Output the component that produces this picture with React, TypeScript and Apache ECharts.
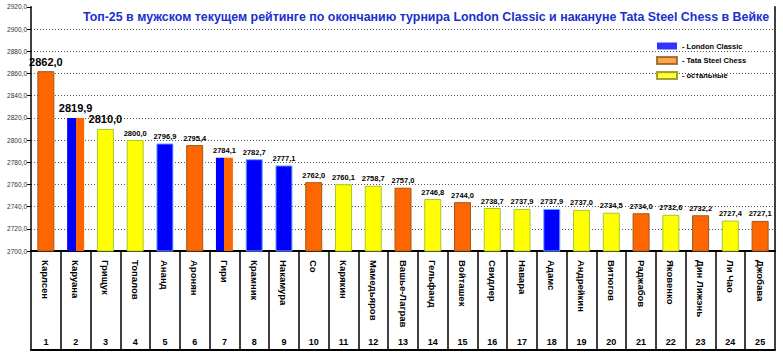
import React, { useEffect, useRef } from "react";
import * as echarts from "echarts";

const titleText =
  "Топ-25 в мужском текущем рейтинге по окончанию турнира London Classic и накануне Tata Steel Chess в Вейке";

const players = [
  "Карлсен", "Каруана", "Грищук", "Топалов", "Ананд", "Аронян", "Гири", "Крамник",
  "Накамура", "Со", "Карякин", "Мамедьяров", "Вашье-Лаграв", "Гельфанд", "Войташек",
  "Свидлер", "Навара", "Адамс", "Андрейкин", "Витюгов", "Раджабов", "Яковенко",
  "Дин Лижэнь", "Ли Чао", "Джобава",
];

const ratings = [
  2862.0, 2819.9, 2810.0, 2800.0, 2796.9, 2795.4, 2784.1, 2782.7, 2777.1, 2762.0,
  2760.1, 2758.7, 2757.0, 2746.8, 2744.0, 2738.7, 2737.9, 2737.9, 2737.0, 2734.5,
  2734.0, 2732.6, 2732.2, 2727.4, 2727.1,
];

// L = London Classic, T = Tata Steel Chess, LT = both, O = others
const groups = [
  "T", "LT", "O", "O", "L", "T", "LT", "L", "L", "T",
  "O", "O", "T", "O", "T", "O", "O", "L", "O", "O",
  "T", "O", "T", "O", "T",
];

const ranks = players.map((_, i) => String(i + 1));

const legendNames = ["- London Classic", "- Tata Steel Chess", "- остальные"];

const yMin = 2700;
const yMax = 2920;
const yStep = 20;

const BLUE = "#0000ff";
const ORANGE = "#ff6600";
const YELLOW = "#ffff00";
const FONT = "'Liberation Sans', Arial, sans-serif";

function fmt(v: number) {
  return v.toFixed(1).replace(".", ",");
}

export default function App() {
  const ref = useRef<HTMLDivElement>(null);

  useEffect(() => {
    if (!ref.current) return;
    const chart = echarts.init(ref.current, undefined, { renderer: "svg" });

    const styleFor = (g: string) => {
      if (g === "L") return { color: BLUE, borderColor: "#6fa8ff", borderWidth: 1 };
      if (g === "T") return { color: ORANGE, borderColor: "#9c5a1e", borderWidth: 1 };
      if (g === "O") return { color: YELLOW, borderColor: "#a8c830", borderWidth: 1 };
      return {
        color: new echarts.graphic.LinearGradient(0, 0, 1, 0, [
          { offset: 0, color: BLUE },
          { offset: 0.5, color: BLUE },
          { offset: 0.5, color: ORANGE },
          { offset: 1, color: ORANGE },
        ]),
        borderColor: "#9c5a1e",
        borderWidth: 0,
      };
    };

    const barData = ratings.map((v, i) => ({
      value: v,
      itemStyle: styleFor(groups[i]),
      label: {
        fontSize: i < 3 ? 11 : 7.5,
        distance: i < 3 ? 4 : 3,
      },
    }));

    chart.setOption({
      animation: false,
      backgroundColor: "#fff",
      grid: { left: 31, top: 6.8, width: 744, height: 244.2, containLabel: false },
      graphic: [
        {
          type: "rect",
          z: 100,
          shape: { x: 32.5, y: 2, width: 741.5, height: 24 },
          style: { fill: "#fff" },
          silent: true,
        },
        {
          type: "text",
          z: 101,
          x: 426,
          y: 17,
          style: {
            text: titleText,
            fill: "#1c2fd0",
            font: "bold 12.4px 'Liberation Sans', Arial, sans-serif",
            textAlign: "center",
            textVerticalAlign: "middle",
          },
        },
      ],
      legend: {
        orient: "vertical",
        left: 656,
        top: 42,
        padding: 0,
        itemWidth: 20,
        itemHeight: 7,
        itemGap: 6,
        selectedMode: false,
        icon: "rect",
        data: legendNames,
        textStyle: {
          fontSize: 7.5,
          fontWeight: "bold",
          color: "#000",
          fontFamily: FONT,
        },
      },
      xAxis: [
        {
          type: "category",
          data: players,
          position: "bottom",
          boundaryGap: true,
          axisLine: { show: true, lineStyle: { color: "#000", width: 2 } },
          axisTick: { show: true, length: 99, lineStyle: { color: "#000", width: 1.5 } },
          axisLabel: {
            rotate: -90,
            margin: 9,
            interval: 0,
            fontSize: 9.5,
            fontWeight: "bold",
            color: "#000",
            fontFamily: FONT,
          },
          splitLine: { show: false },
        },
        {
          type: "category",
          data: ranks,
          position: "bottom",
          offset: 99,
          boundaryGap: true,
          axisLine: { show: true, lineStyle: { color: "#000", width: 2 } },
          axisTick: { show: false },
          axisLabel: {
            inside: true,
            margin: 4,
            interval: 0,
            fontSize: 9,
            fontWeight: "bold",
            color: "#000",
            fontFamily: FONT,
          },
          splitLine: { show: false },
        },
      ],
      yAxis: [
        {
          type: "value",
          min: yMin,
          max: yMax,
          interval: yStep,
          position: "left",
          axisLine: { show: true, lineStyle: { color: "#000", width: 1.5 } },
          axisTick: { show: true, length: 4, lineStyle: { color: "#000" } },
          axisLabel: {
            formatter: (v: number) => fmt(v),
            fontSize: 6.5,
            color: "#333",
            margin: 4,
            fontFamily: FONT,
          },
          splitLine: {
            show: true,
            lineStyle: { color: "#555", type: [1, 2], width: 1 },
          },
        },
        {
          type: "value",
          min: yMin,
          max: yMax,
          interval: yStep,
          position: "right",
          axisLine: { show: true, lineStyle: { color: "#000", width: 1.5 } },
          axisTick: { show: false },
          axisLabel: { show: false },
          splitLine: { show: false },
        },
      ],
      series: [
        {
          type: "bar",
          xAxisIndex: 0,
          yAxisIndex: 0,
          barWidth: 17,
          data: barData,
          label: {
            show: true,
            position: "top",
            formatter: (p: any) => fmt(p.value),
            fontWeight: "bold",
            color: "#000",
            fontFamily: FONT,
          },
        },
        {
          name: legendNames[0],
          type: "scatter",
          data: [],
          itemStyle: { color: BLUE },
        },
        {
          name: legendNames[1],
          type: "scatter",
          data: [],
          itemStyle: { color: "#ff8c1a", borderColor: "#8a5a20", borderWidth: 1 },
        },
        {
          name: legendNames[2],
          type: "scatter",
          data: [],
          itemStyle: { color: YELLOW, borderColor: "#8a8a20", borderWidth: 1 },
        },
      ],
    });

    return () => chart.dispose();
  }, []);

  return (
    <div
      ref={ref}
      style={{ position: "fixed", left: 0, top: 0, width: 783, height: 354 }}
    />
  );
}
